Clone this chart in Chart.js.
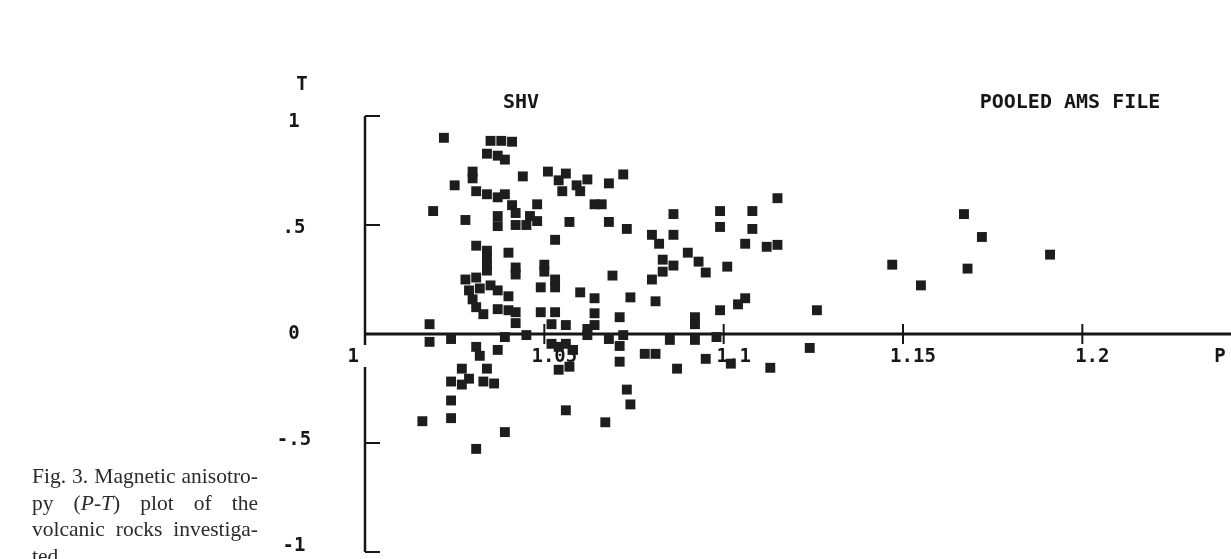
<!DOCTYPE html>
<html>
<head>
<meta charset="utf-8">
<title>P-T plot</title>
<script src="https://cdn.jsdelivr.net/npm/chart.js@4.4.0/dist/chart.umd.min.js"></script>
<style>
    html, body { margin: 0; padding: 0; background: #fff; overflow: hidden; }
    #wrap { position: relative; width: 1231px; height: 559px; }
    #ptChart { position: absolute; left: 0; top: 0; }
    .caption {
        position: absolute; left: 32px; top: 463px; width: 226px;
        font: 21.5px "Liberation Serif", serif; line-height: 26.5px; color: #2b2b2b;
    }
    .caption div { white-space: nowrap; text-align: justify; text-align-last: justify; }
    .caption div.last { text-align-last: left; }
</style>
</head>
<body>
<div id="wrap">
    <canvas id="ptChart" width="1231" height="559"></canvas>
    <div class="caption">
        <div>Fig. 3. Magnetic anisotro-</div>
        <div>py (<i>P</i>-<i>T</i>) plot of the</div>
        <div>volcanic rocks investiga-</div>
        <div class="last">ted.</div>
    </div>
</div>
<script>
// P (degree of anisotropy) and T (shape parameter), one entry per specimen
const pValues = [
    1.022, 1.035, 1.038, 1.041, 1.034, 1.037, 1.039, 1.030, 1.030, 1.025,
    1.031, 1.034, 1.037, 1.039, 1.019, 1.028, 1.037, 1.037, 1.041, 1.042,
    1.042, 1.044, 1.051, 1.054, 1.056, 1.059, 1.060, 1.062, 1.055, 1.068,
    1.072, 1.048, 1.046, 1.048, 1.045, 1.064, 1.066, 1.057, 1.068, 1.073,
    1.053, 1.080, 1.082, 1.086, 1.086, 1.099, 1.108, 1.099, 1.108, 1.106,
    1.112, 1.115, 1.115, 1.090, 1.093, 1.083, 1.086, 1.083, 1.080, 1.095,
    1.101, 1.031, 1.034, 1.034, 1.034, 1.034, 1.040, 1.042, 1.042, 1.028,
    1.031, 1.029, 1.032, 1.035, 1.037, 1.040, 1.030, 1.031, 1.033, 1.037,
    1.040, 1.042, 1.042, 1.018, 1.050, 1.050, 1.053, 1.049, 1.053, 1.060,
    1.064, 1.069, 1.074, 1.081, 1.049, 1.053, 1.064, 1.071, 1.052, 1.056,
    1.062, 1.064, 1.106, 1.104, 1.099, 1.092, 1.092, 1.126, 1.147, 1.155,
    1.167, 1.172, 1.168, 1.191,
    1.018, 1.024, 1.039, 1.045, 1.031, 1.032, 1.037, 1.027, 1.029, 1.027,
    1.034, 1.033, 1.036, 1.024, 1.024, 1.024, 1.016, 1.039, 1.031, 1.052,
    1.054, 1.056, 1.058, 1.054, 1.057, 1.056, 1.062, 1.068, 1.072, 1.071,
    1.071, 1.073, 1.074, 1.067, 1.078, 1.081, 1.085, 1.087, 1.092, 1.095,
    1.098, 1.102, 1.113, 1.124
];
const tValues = [
    0.900, 0.886, 0.886, 0.882, 0.827, 0.818, 0.800, 0.745, 0.714, 0.682,
    0.655, 0.641, 0.627, 0.641, 0.564, 0.523, 0.541, 0.495, 0.591, 0.555,
    0.500, 0.723, 0.745, 0.705, 0.736, 0.682, 0.655, 0.709, 0.655, 0.691,
    0.732, 0.595, 0.541, 0.518, 0.500, 0.595, 0.595, 0.514, 0.514, 0.482,
    0.432, 0.455, 0.414, 0.455, 0.550, 0.564, 0.564, 0.491, 0.482, 0.414,
    0.400, 0.409, 0.623, 0.373, 0.332, 0.341, 0.314, 0.286, 0.250, 0.282,
    0.309, 0.405, 0.382, 0.350, 0.318, 0.291, 0.373, 0.305, 0.273, 0.250,
    0.259, 0.200, 0.209, 0.223, 0.200, 0.173, 0.159, 0.123, 0.091, 0.114,
    0.109, 0.100, 0.050, 0.045, 0.318, 0.286, 0.250, 0.214, 0.214, 0.191,
    0.164, 0.268, 0.168, 0.150, 0.100, 0.100, 0.095, 0.077, 0.045, 0.041,
    0.023, 0.041, 0.164, 0.136, 0.109, 0.077, 0.045, 0.109, 0.318, 0.223,
    0.550, 0.445, 0.300, 0.364,
    -0.036, -0.023, -0.014, -0.005, -0.059, -0.100, -0.073, -0.159, -0.205, -0.232,
    -0.159, -0.218, -0.227, -0.218, -0.305, -0.386, -0.400, -0.450, -0.527, -0.045,
    -0.059, -0.045, -0.073, -0.164, -0.150, -0.350, -0.005, -0.023, -0.005, -0.055,
    -0.127, -0.255, -0.323, -0.405, -0.091, -0.091, -0.027, -0.159, -0.027, -0.114,
    -0.014, -0.136, -0.155, -0.064
];
const pTicks = [1, 1.05, 1.1, 1.15, 1.2];
const pTickLabels = ['1', '1.05', '1.1', '1.15', '1.2'];
const tTicks = [1, 0.5, 0, -0.5, -1];
const tTickLabels = ['1', '.5', '0', '-.5', '-1'];
const leftTitle = 'SHV';
const rightTitle = 'POOLED AMS FILE';

document.addEventListener('DOMContentLoaded', function() {
    const ctx = document.getElementById('ptChart').getContext('2d');
    const ink = '#161616';

    // old plotter style axes: T axis at P=1, P axis at T=0, ticks and labels
    const ptAxes = {
        id: 'ptAxes',
        beforeDatasetsDraw(chart) {
            const c = chart.ctx;
            const xs = chart.scales.x, ys = chart.scales.y;
            const x0 = xs.getPixelForValue(1);
            const y0 = ys.getPixelForValue(0);
            const yTop = ys.getPixelForValue(1);
            const yBot = ys.getPixelForValue(-1);
            c.save();
            c.strokeStyle = ink;
            c.fillStyle = ink;

            c.lineWidth = 3;
            c.beginPath();
            c.moveTo(x0 - 1, y0);
            c.lineTo(chart.width, y0);
            c.stroke();

            // T axis is broken where the "1" label of P sits
            c.lineWidth = 2.5;
            c.beginPath();
            c.moveTo(x0, yTop);
            c.lineTo(x0, y0 + 11);
            c.moveTo(x0, y0 + 33);
            c.lineTo(x0, yBot);
            c.stroke();

            c.lineWidth = 2;
            tTicks.forEach(v => {
                if (v === 0) return;
                const py = ys.getPixelForValue(v);
                c.beginPath();
                c.moveTo(x0, py);
                c.lineTo(x0 + 15, py);
                c.stroke();
            });
            pTicks.forEach(v => {
                if (v === 1) return;
                const px = xs.getPixelForValue(v);
                c.beginPath();
                c.moveTo(px, y0 - 10);
                c.lineTo(px, y0 + 10);
                c.stroke();
            });

            c.font = 'bold 19px "DejaVu Sans Mono", monospace';
            c.textBaseline = 'middle';
            c.textAlign = 'center';
            tTicks.forEach((v, i) => {
                c.fillText(tTickLabels[i], x0 - 71, ys.getPixelForValue(v) + 6 * v);
            });
            pTicks.forEach((v, i) => {
                const px = xs.getPixelForValue(v);
                if (i === 0) {
                    c.textAlign = 'right';
                    c.fillText(pTickLabels[i], x0 - 6, y0 + 23);
                    c.textAlign = 'center';
                } else {
                    c.fillText(pTickLabels[i], px + 10, y0 + 23);
                }
            });
            c.fillText('T', x0 - 63, yTop - 31);
            c.fillText('P', chart.width - 11, y0 + 23);

            c.font = 'bold 20px "DejaVu Sans Mono", monospace';
            c.fillText(leftTitle, x0 + 156, yTop - 13);
            c.fillText(rightTitle, x0 + 705, yTop - 13);
            c.restore();
        }
    };

    new Chart(ctx, {
        type: 'scatter',
        data: {
            datasets: [{
                label: 'AMS specimens',
                data: pValues.map((p, i) => ({ x: p, y: tValues[i] })),
                pointStyle: 'rect',
                pointRadius: 7,
                pointHoverRadius: 7,
                backgroundColor: '#1d1d1d',
                borderColor: '#1d1d1d',
                borderWidth: 0
            }]
        },
        options: {
            responsive: false,
            animation: false,
            devicePixelRatio: 1,
            layout: { padding: { left: 365, right: 0, top: 116, bottom: 3 } },
            plugins: {
                legend: { display: false },
                tooltip: { enabled: false }
            },
            scales: {
                x: { type: 'linear', min: 1, max: 1.2395, display: false },
                y: { type: 'linear', min: -1, max: 1, display: false }
            }
        },
        plugins: [ptAxes]
    });
});
</script>
</body>
</html>
